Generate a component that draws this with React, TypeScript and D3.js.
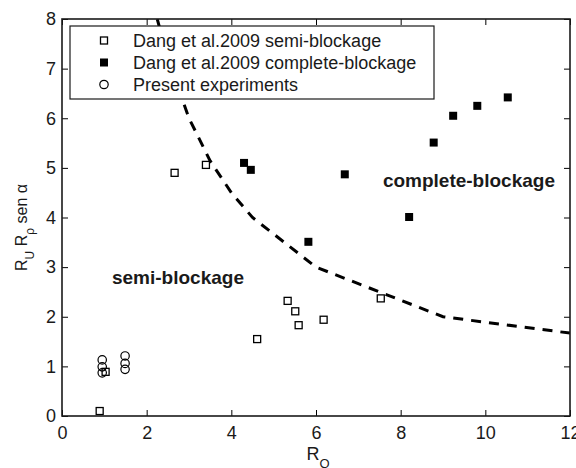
import React, { useEffect, useRef } from 'react';
import * as d3 from 'd3';

// Dang et al. 2009, semi-blockage (open squares)
const semiX = [0.89, 1.03, 2.66, 3.4, 4.61, 5.33, 5.51, 5.59, 6.18, 7.53];
const semiY = [0.1, 0.89, 4.9, 5.06, 1.55, 2.32, 2.11, 1.83, 1.94, 2.37];

// Dang et al. 2009, complete-blockage (filled squares)
const compX = [4.3, 4.46, 5.82, 6.68, 8.2, 8.78, 9.24, 9.81, 10.53];
const compY = [5.1, 4.96, 3.51, 4.87, 4.01, 5.51, 6.05, 6.25, 6.42];

// Present experiments (open circles)
const presX = [0.95, 0.95, 0.95, 1.49, 1.49, 1.49];
const presY = [0.87, 0.99, 1.13, 0.94, 1.06, 1.21];

// boundary between regimes (dashed)
const limX = [2.25, 2.5, 3, 3.5, 4, 4.5, 6, 9, 12];
const limY = [8, 7.2, 6, 5.14, 4.5, 4, 3, 2, 1.67];

const xTicks = [0, 2, 4, 6, 8, 10, 12];
const yTicks = [0, 1, 2, 3, 4, 5, 6, 7, 8];

const legendLabels = [
  'Dang et al.2009 semi-blockage',
  'Dang et al.2009 complete-blockage',
  'Present experiments',
];

const W = 576;
const H = 468;
const margin = { top: 19, right: 6, bottom: 52, left: 62 };
const FONT = 'Liberation Sans, Arial, Helvetica, sans-serif';
const INK = '#1a1a1a';

const Chart: React.FC = () => {
  const svgRef = useRef<SVGSVGElement | null>(null);

  useEffect(() => {
    if (!svgRef.current) return;
    const svg = d3.select(svgRef.current);
    svg.selectAll('*').remove();

    const iw = W - margin.left - margin.right;
    const ih = H - margin.top - margin.bottom;

    const x = d3.scaleLinear().domain([0, 12]).range([0, iw]);
    const y = d3.scaleLinear().domain([0, 8]).range([ih, 0]);

    svg.append('defs').append('clipPath').attr('id', 'plotclip')
      .append('rect').attr('width', iw).attr('height', ih);

    const g = svg.append('g').attr('transform', `translate(${margin.left},${margin.top})`);

    // dashed regime boundary
    const line = d3.line<number>().x((_, i) => x(limX[i])).y((d) => y(d));
    g.append('path')
      .datum(limY)
      .attr('clip-path', 'url(#plotclip)')
      .attr('d', line)
      .attr('fill', 'none')
      .attr('stroke', '#000')
      .attr('stroke-width', 3)
      .attr('stroke-dasharray', '10,8');

    // markers
    const sq = 7;
    g.selectAll('.semi')
      .data(semiX)
      .enter()
      .append('rect')
      .attr('x', (d) => x(d) - sq / 2)
      .attr('y', (_, i) => y(semiY[i]) - sq / 2)
      .attr('width', sq)
      .attr('height', sq)
      .attr('fill', '#fff')
      .attr('stroke', '#000')
      .attr('stroke-width', 1.3);

    const fs = 8;
    g.selectAll('.comp')
      .data(compX)
      .enter()
      .append('rect')
      .attr('x', (d) => x(d) - fs / 2)
      .attr('y', (_, i) => y(compY[i]) - fs / 2)
      .attr('width', fs)
      .attr('height', fs)
      .attr('fill', '#000');

    g.selectAll('.pres')
      .data(presX)
      .enter()
      .append('circle')
      .attr('cx', (d) => x(d))
      .attr('cy', (_, i) => y(presY[i]))
      .attr('r', 4.2)
      .attr('fill', 'none')
      .attr('stroke', '#000')
      .attr('stroke-width', 1.2);

    // region labels
    g.append('text')
      .attr('x', x(1.18))
      .attr('y', y(2.66))
      .attr('font-family', FONT)
      .attr('font-size', '19px')
      .attr('font-weight', 'bold')
      .attr('fill', INK)
      .text('semi-blockage');

    g.append('text')
      .attr('x', x(7.58))
      .attr('y', y(4.62))
      .attr('font-family', FONT)
      .attr('font-size', '19px')
      .attr('font-weight', 'bold')
      .attr('fill', INK)
      .text('complete-blockage');

    // axes (ticks inward on all four sides)
    const style = (sel: d3.Selection<SVGGElement, unknown, null, undefined>) => {
      sel.select('.domain').remove();
      sel.selectAll('line').attr('stroke', '#000').attr('stroke-width', 1);
      sel.selectAll('text').attr('font-family', FONT).attr('font-size', '18px').attr('fill', INK);
    };

    g.append('g')
      .attr('transform', `translate(0,${ih})`)
      .call(d3.axisBottom(x).tickValues(xTicks).tickSize(-6).tickPadding(10).tickFormat(d3.format('d')))
      .call(style);
    g.append('g')
      .call(d3.axisLeft(y).tickValues(yTicks).tickSize(-6).tickPadding(6).tickFormat(d3.format('d')))
      .call(style);
    g.append('g')
      .call(d3.axisTop(x).tickValues(xTicks).tickSize(-6).tickFormat(() => ''))
      .call(style);
    g.append('g')
      .attr('transform', `translate(${iw},0)`)
      .call(d3.axisRight(y).tickValues(yTicks).tickSize(-6).tickFormat(() => ''))
      .call(style);

    g.append('rect')
      .attr('width', iw)
      .attr('height', ih)
      .attr('fill', 'none')
      .attr('stroke', INK)
      .attr('stroke-width', 1.6);

    // legend
    const lg = g.append('g').attr('transform', 'translate(8,7)');
    lg.append('rect')
      .attr('width', 364)
      .attr('height', 73)
      .attr('fill', '#fff')
      .attr('stroke', INK)
      .attr('stroke-width', 1.2);
    const rowY = (i: number) => 14.5 + i * 22;
    legendLabels.forEach((label, i) => {
      const cy = rowY(i);
      if (i === 0) {
        lg.append('rect').attr('x', 30.5).attr('y', cy - 3.5).attr('width', 7).attr('height', 7)
          .attr('fill', '#fff').attr('stroke', '#000').attr('stroke-width', 1.3);
      } else if (i === 1) {
        lg.append('rect').attr('x', 30).attr('y', cy - 4).attr('width', 8).attr('height', 8).attr('fill', '#000');
      } else {
        lg.append('circle').attr('cx', 34).attr('cy', cy).attr('r', 4.2)
          .attr('fill', 'none').attr('stroke', '#000').attr('stroke-width', 1.2);
      }
      lg.append('text')
        .attr('x', 63)
        .attr('y', cy + 6.5)
        .attr('font-family', FONT)
        .attr('font-size', '18px')
        .attr('fill', INK)
        .text(label);
    });

    // x label: R_Q
    const xl = svg.append('text')
      .attr('x', margin.left + iw / 2 + 2)
      .attr('y', 460)
      .attr('text-anchor', 'middle')
      .attr('font-family', FONT)
      .attr('font-size', '18px')
      .attr('fill', INK);
    xl.append('tspan').text('R');
    xl.append('tspan').attr('dy', 8).attr('font-size', '13px').text('Q');

    // y label: R_U R_rho sen alpha
    const yl = svg.append('text')
      .attr('transform', `translate(27,${margin.top + ih / 2 + 10}) rotate(-90)`)
      .attr('text-anchor', 'middle')
      .attr('font-family', FONT)
      .attr('font-size', '16px')
      .attr('fill', INK);
    yl.append('tspan').text('R');
    yl.append('tspan').attr('dy', 7).attr('font-size', '12px').text('U');
    yl.append('tspan').attr('dy', -7).text(' R');
    yl.append('tspan').attr('dy', 7).attr('font-size', '12px').text('ρ');
    yl.append('tspan').attr('dy', -7).text(' sen ');
    yl.append('tspan').text('α');
  }, []);

  return <svg ref={svgRef} width={W} height={H} style={{ display: 'block', background: '#fff' }} />;
};

export default function App() {
  return (
    <div style={{ position: 'fixed', left: 0, top: 0 }}>
      <Chart />
    </div>
  );
}
